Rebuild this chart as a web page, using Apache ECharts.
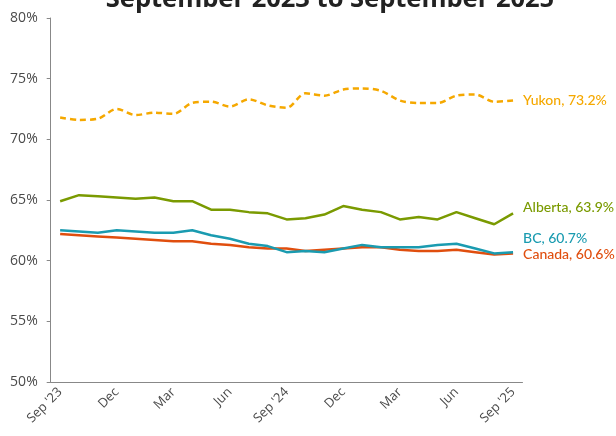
<!DOCTYPE html>
<html>
<head>
<meta charset="utf-8">
<script src="https://cdn.jsdelivr.net/npm/echarts@6/dist/echarts.min.js"></script>
<style>html,body{margin:0;padding:0;background:#fff}#c{width:616px;height:436px}</style>
</head>
<body>
<div id="c"></div>
<script>
const months = ["Sep '23","Oct","Nov","Dec","Jan","Feb","Mar","Apr","May","Jun","Jul","Aug","Sep '24","Oct","Nov","Dec","Jan","Feb","Mar","Apr","May","Jun","Jul","Aug","Sep '25"];
const yukon   = [71.8,71.6,71.7,72.5,72.0,72.2,72.1,73.0,73.1,72.7,73.3,72.8,72.6,73.8,73.6,74.1,74.2,74.0,73.2,73.0,73.0,73.6,73.7,73.1,73.2];
const alberta = [64.9,65.4,65.3,65.2,65.1,65.2,64.9,64.9,64.2,64.2,64.0,63.9,63.4,63.5,63.8,64.5,64.2,64.0,63.4,63.6,63.4,64.0,63.5,63.0,63.9];
const bc      = [62.5,62.4,62.3,62.5,62.4,62.3,62.3,62.5,62.1,61.8,61.4,61.2,60.7,60.8,60.7,61.0,61.3,61.1,61.1,61.1,61.3,61.4,61.0,60.6,60.7];
const canada  = [62.2,62.1,62.0,61.9,61.8,61.7,61.6,61.6,61.4,61.3,61.1,61.0,61.0,60.8,60.9,61.0,61.1,61.1,60.9,60.8,60.8,60.9,60.7,60.5,60.6];
const yTicks = [50,55,60,65,70,75,80];

const chart = echarts.init(document.getElementById('c'));
function endLabel(name, color, offsetY) {
  return {
    show: true,
    distance: 10,
    offset: [0, offsetY],
    color: color,
    fontFamily: 'Lato',
    fontWeight: 500,
    fontSize: 14,
    formatter: function (p) { return name + ', ' + p.value.toFixed(1) + '%'; }
  };
}
chart.setOption({
  animation: false,
  title: {
    text: 'September 2023 to September 2025',
    left: 325,
    textAlign: 'center',
    top: -18,
    textStyle: { fontFamily: 'Open Sans', fontWeight: 'bold', fontSize: 25.5, color: '#222' }
  },
  grid: { left: 50.7, right: 93.5, top: 18, bottom: 54 },
  xAxis: {
    type: 'category',
    data: months,
    boundaryGap: true,
    axisLine: { lineStyle: { color: '#888', width: 1 } },
    axisTick: { length: 4, interval: function (i) { return i % 2 === 1; }, lineStyle: { color: '#888' } },
    axisLabel: { interval: 2, rotate: 45, color: '#4a4a4a', fontFamily: 'Open Sans', fontSize: 13, margin: 8 },
    splitLine: { show: false }
  },
  yAxis: {
    type: 'value',
    min: yTicks[0],
    max: yTicks[yTicks.length - 1],
    interval: 5,
    axisLine: { show: true, lineStyle: { color: '#888', width: 1 } },
    axisTick: { show: true, length: 4, lineStyle: { color: '#888' } },
    axisLabel: { color: '#4a4a4a', fontFamily: 'Open Sans', fontSize: 14, margin: 13, formatter: '{value}%' },
    splitLine: { show: false }
  },
  series: [
    { name: 'Yukon', type: 'line', data: yukon, smooth: 0.3, symbol: 'none',
      lineStyle: { color: '#F5A800', width: 2.5, type: [6, 4] }, itemStyle: { color: '#F5A800' },
      endLabel: endLabel('Yukon', '#F5A800', 0) },
    { name: 'Alberta', type: 'line', data: alberta, symbol: 'none',
      lineStyle: { color: '#7A9A01', width: 2.5 }, itemStyle: { color: '#7A9A01' },
      endLabel: endLabel('Alberta', '#7A9A01', -6) },
    { name: 'Canada', type: 'line', data: canada, symbol: 'none',
      lineStyle: { color: '#E04E0E', width: 2.5 }, itemStyle: { color: '#E04E0E' },
      endLabel: endLabel('Canada', '#E04E0E', 1) },
    { name: 'BC', type: 'line', data: bc, symbol: 'none',
      lineStyle: { color: '#1A9BB0', width: 2.5 }, itemStyle: { color: '#1A9BB0' },
      endLabel: endLabel('BC', '#1A9BB0', -14) }
  ]
});
</script>
</body>
</html>
